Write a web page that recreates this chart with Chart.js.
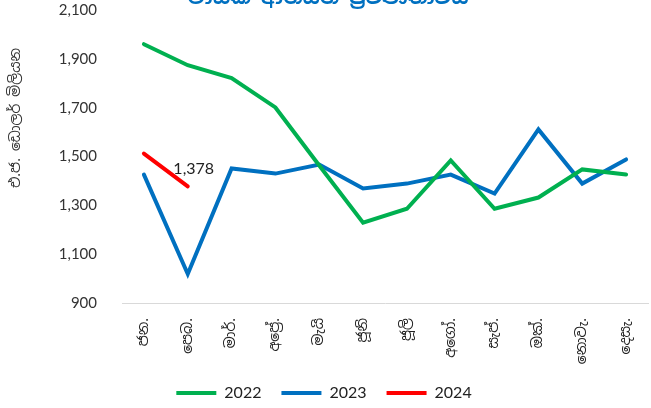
<!DOCTYPE html>
<html>
<head>
<meta charset="utf-8">
<script src="https://cdn.jsdelivr.net/npm/chart.js@4/dist/chart.umd.min.js"></script>
<style>
  html, body { margin: 0; padding: 0; background: #fff; }
  #wrap { width: 651px; height: 408px; position: relative; }
</style>
</head>
<body>
<div id="wrap"><canvas id="myChart"></canvas></div>
<script>
const months = ['ජන.', 'පෙබ.', 'මාර්.', 'අප්‍රේ.', 'මැයි', 'ජූනි', 'ජූලි', 'අගෝ.', 'සැප්.', 'ඔක්.', 'නොවැ.', 'දෙසැ.'];
const imports2022 = [1960, 1874, 1821, 1701, 1463, 1229, 1286, 1484, 1286, 1332, 1447, 1426];
const imports2023 = [1426, 1019, 1451, 1430, 1467, 1369, 1389, 1426, 1348, 1611, 1389, 1488];
const imports2024 = [1512, 1378];
const yTicks = [900, 1100, 1300, 1500, 1700, 1900, 2100];

const chartTitle = 'මාසික ආනයන ප්‍රවණතාවය';
const yTitle = 'එ.ජ. ඩොලර් මිලියන';

const sinhalaFont = "'Noto Sans Sinhala', 'Noto Sans', 'Open Sans', sans-serif";

// title and y-axis caption drawn by hand, the reference has them off-centre
const textBits = {
  id: 'textBits',
  afterDraw(chart) {
    const ctx = chart.ctx;
    ctx.save();
    ctx.fillStyle = '#0070C0';
    ctx.font = 'bold 20px ' + sinhalaFont;
    ctx.textAlign = 'center';
    ctx.textBaseline = 'alphabetic';
    ctx.fillText(chartTitle, 328, 4);

    ctx.fillStyle = '#333';
    ctx.font = '14px ' + sinhalaFont;
    ctx.translate(16, 118);
    ctx.rotate(-Math.PI / 2);
    ctx.textBaseline = 'middle';
    ctx.fillText(yTitle, 0, 0);
    ctx.restore();

    // data label on last 2024 point
    const meta = chart.getDatasetMeta(2);
    const pt = meta.data[imports2024.length - 1];
    ctx.save();
    ctx.fillStyle = '#222';
    ctx.font = '16px Lato, sans-serif';
    ctx.textAlign = 'center';
    ctx.textBaseline = 'middle';
    ctx.fillText(imports2024[imports2024.length - 1].toLocaleString('en-US'), pt.x + 6, pt.y - 17);
    ctx.restore();
  }
};

const ctx = document.getElementById('myChart').getContext('2d');
new Chart(ctx, {
  type: 'line',
  data: {
    labels: months,
    datasets: [
      { label: '2022', data: imports2022, borderColor: '#00B050', backgroundColor: '#00B050', borderWidth: 4 },
      { label: '2023', data: imports2023, borderColor: '#0070C0', backgroundColor: '#0070C0', borderWidth: 4 },
      { label: '2024', data: imports2024, borderColor: '#FF0000', backgroundColor: '#FF0000', borderWidth: 4 }
    ]
  },
  options: {
    responsive: true,
    maintainAspectRatio: false,
    animation: false,
    devicePixelRatio: 1,
    elements: {
      line: { borderWidth: 4, tension: 0, borderCapStyle: 'round', borderJoinStyle: 'miter' },
      point: { radius: 0, hoverRadius: 0 }
    },
    layout: { padding: { top: 0, right: 3, left: 0, bottom: -3 } },
    plugins: {
      title: { display: false },
      tooltip: { enabled: false },
      legend: {
        position: 'bottom',
        labels: {
          usePointStyle: true,
          pointStyle: 'line',
          pointStyleWidth: 40,
          boxHeight: 4,
          padding: 20,
          color: '#222',
          font: { family: 'Lato, sans-serif', size: 16 }
        }
      }
    },
    scales: {
      x: {
        offset: true,
        grid: { display: false },
        border: { display: true, color: '#d9d9d9', width: 1 },
        ticks: {
          minRotation: 90,
          maxRotation: 90,
          autoSkip: false,
          padding: 7,
          color: '#222',
          font: { family: sinhalaFont, size: 14 }
        },
        afterFit: s => { s.height = 62; }
      },
      y: {
        min: 900,
        max: 2100,
        afterBuildTicks: s => { s.ticks = yTicks.map(v => ({ value: v })); },
        grid: { display: false },
        border: { display: false },
        ticks: {
          padding: 17,
          color: '#333',
          font: { family: 'Lato, sans-serif', size: 15 },
          callback: v => v.toLocaleString('en-US')
        },
        afterFit: s => { s.width = 122; s.paddingTop = 10; s.paddingBottom = 0; }
      }
    }
  },
  plugins: [textBits]
});
</script>
</body>
</html>
